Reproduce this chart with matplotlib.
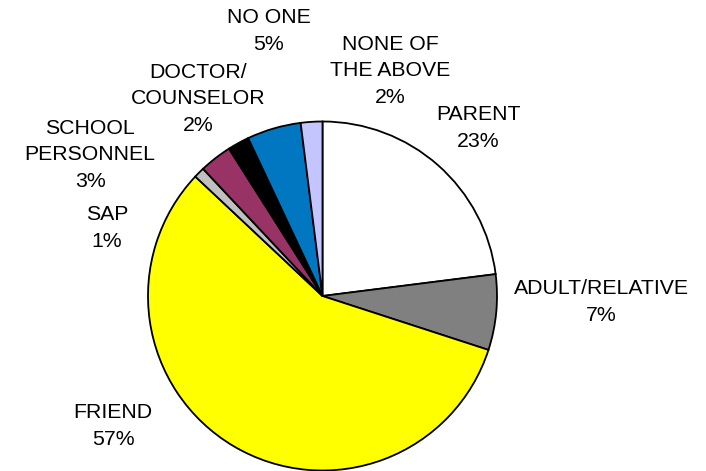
import matplotlib
matplotlib.use("Agg")
import matplotlib.pyplot as plt

labels = ["PARENT", "ADULT/RELATIVE", "FRIEND", "SAP", "SCHOOL\nPERSONNEL",
          "DOCTOR/\nCOUNSELOR", "NO ONE", "NONE OF\nTHE ABOVE"]
values = [23, 7, 57, 1, 3, 2, 5, 2]
colors = ["#FFFFFF", "#808080", "#FFFF00", "#C0C0C0", "#993366",
          "#000000", "#0077C0", "#C4C4FF"]

# label centres in pixel coordinates of the 706x471 canvas
label_px = [(478, 128), (601, 302), (113, 426), (107, 228), (90, 155),
            (198, 99), (269, 31), (390, 71)]

W, H = 706, 471
cx, cy, R = 322.5, 296, 174.5

plt.rcParams['font.family'] = ['Liberation Sans', 'DejaVu Sans']
fig = plt.figure(figsize=(W / 100, H / 100), dpi=100)
ax = fig.add_axes([0, 0, 1, 1])
ax.pie(values, colors=colors, startangle=90, counterclock=False,
       wedgeprops=dict(edgecolor="black", linewidth=1.3))
ax.set_xlim(-cx / R, (W - cx) / R)
ax.set_ylim(-(H - cy) / R, cy / R)
ax.set_aspect("equal")
ax.axis("off")

for lab, v, (px, py) in zip(labels, values, label_px):
    ax.text((px - cx) / R, (cy - py) / R, f"{lab}\n{v}%", ha="center",
            va="center", fontsize=15.3, linespacing=1.5)

fig.savefig("out.png", dpi=100)
